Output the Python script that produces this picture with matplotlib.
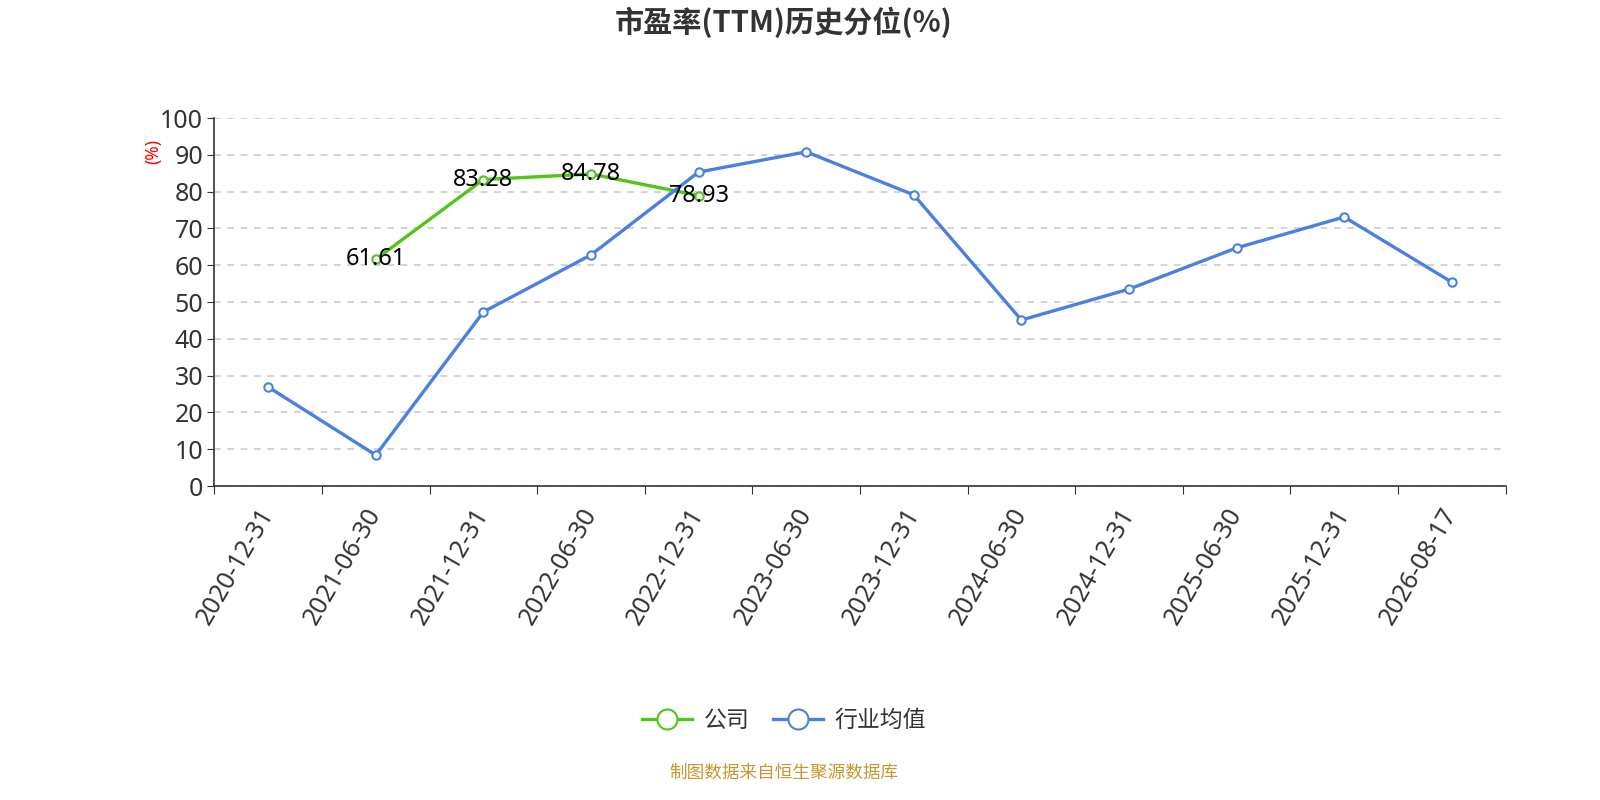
import matplotlib
matplotlib.use("Agg")
import matplotlib.pyplot as plt
import numpy as np

plt.rcParams['font.family'] = ['Noto Sans', 'Noto Sans CJK SC', 'DejaVu Sans']

# 数据
dates = ['2020-12-31', '2021-06-30', '2021-12-31', '2022-06-30', '2022-12-31', '2023-06-30',
         '2023-12-31', '2024-06-30', '2024-12-31', '2025-06-30', '2025-12-31', '2026-08-17']
company = [None, 61.61, 83.28, 84.78, 78.93, None, None, None, None, None, None, None]
industry = [26.9, 8.4, 47.3, 62.8, 85.3, 90.8, 79.1, 45.1, 53.5, 64.7, 73.1, 55.4]

green = '#52c41a'
blue = '#4a80e0'

fig = plt.figure(figsize=(16, 8), dpi=100)
ax = fig.add_axes([0.134, 0.3925, 0.807, 0.46])

x = np.arange(len(dates))
comp = np.array([np.nan if v is None else v for v in company], dtype=float)

ax.plot(x, comp, color=green, lw=2.4, marker='o', ms=6, mfc='white', mec=green, mew=1.5,
        label='公司', zorder=3)
ax.plot(x, industry, color=blue, lw=2.4, marker='o', ms=6, mfc='white', mec=blue, mew=1.5,
        label='行业均值', zorder=3)

for xi, v in zip(x, company):
    if v is not None:
        ax.text(xi, v, f'{v:.2f}', ha='center', va='center', fontsize=17, color='black', zorder=4)

ax.set_xlim(-0.5, len(dates) - 0.5)
ax.set_ylim(0, 100)
ax.set_yticks(range(0, 101, 10))
ax.tick_params(axis='y', labelsize=18, labelcolor='#333333', length=5, color='#333333', pad=3)

ax.set_xticks(np.arange(-0.5, len(dates), 1.0))
ax.set_xticklabels([])
ax.set_xticks(x, minor=True)
ax.set_xticklabels(dates, minor=True, rotation=60, ha='right', va='center', rotation_mode='anchor',
                   fontsize=18, color='#333333')
ax.tick_params(axis='x', which='major', length=6, color='#333333')
ax.tick_params(axis='x', which='minor', length=0, pad=17)

ax.grid(axis='y', linestyle=(0, (4, 4)), color='#cccccc', lw=1.2)
ax.set_axisbelow(True)
for s in ['top', 'right']:
    ax.spines[s].set_visible(False)
ax.spines['left'].set_color('#333333')
ax.spines['bottom'].set_color('#333333')
ax.spines['left'].set_linewidth(1.2)
ax.spines['bottom'].set_linewidth(1.2)

fig.text(0.096, 0.81, '(%)', rotation=90, color='red', fontsize=12.5, ha='center', va='center')

fig.suptitle('市盈率(TTM)历史分位(%)', x=0.49, y=0.972, va='center', fontsize=21, fontweight='bold',
             color='#333333', family=['Noto Sans CJK SC', 'DejaVu Sans'])

leg = fig.legend(loc='center', bbox_to_anchor=(0.49, 0.099), ncol=2, frameon=False, fontsize=16.5,
                 markerscale=2.4, handlelength=2.2, columnspacing=1.0, handletextpad=0.5)
for t in leg.get_texts():
    t.set_color('#333333')

fig.text(0.49, 0.034, '制图数据来自恒生聚源数据库', ha='center', va='center', fontsize=12.7, color='#c8962e')

fig.savefig('out.png', dpi=100)
